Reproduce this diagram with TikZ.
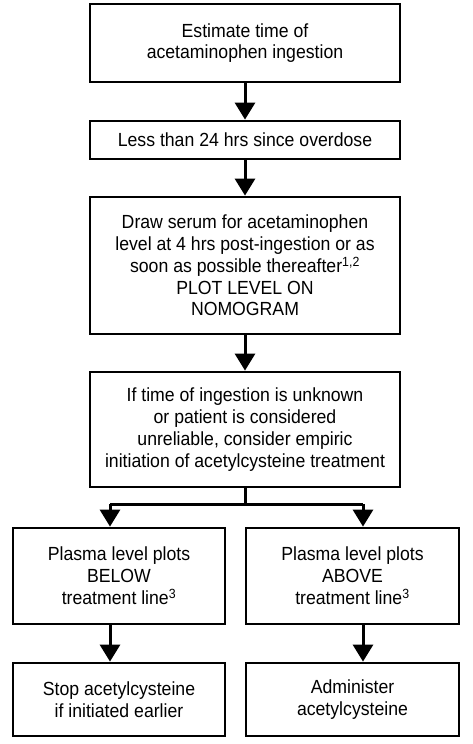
\documentclass[tikz,border=0pt]{standalone}
\usepackage{fontspec}
\setmainfont{Liberation Sans}[FakeStretch=0.93]
\usetikzlibrary{arrows.meta}
\begin{document}
\begin{tikzpicture}[x=1pt,y=-1pt,
  box/.style={draw,line width=2.8pt,align=center,inner sep=0pt,
    font=\fontsize{19}{21.8}\selectfont},
  arr/.style={line width=3pt,-{Triangle[width=20pt,length=17pt]}},
  ln/.style={line width=3pt}]
\useasboundingbox (0,0) rectangle (473,744);
\node[box,minimum width=310pt,minimum height=78pt] (b1) at (245,43) {Estimate time of\\acetaminophen ingestion};
\node[box,minimum width=310pt,minimum height=38pt] (b2) at (245,140) {Less than 24 hrs since overdose};
\node[box,minimum width=310pt,minimum height=137pt] (b3) at (245,265.5) {Draw serum for acetaminophen\\level at 4 hrs post-ingestion or as\\soon as possible thereafter\textsuperscript{1,2}\\PLOT LEVEL ON\\NOMOGRAM};
\node[box,minimum width=310pt,minimum height=115pt] (b4) at (245,429.5) {If time of ingestion is unknown\\or patient is considered\\unreliable, consider empiric\\initiation of acetylcysteine treatment};
\node[box,minimum width=212pt,minimum height=96pt] (b5l) at (119,576) {Plasma level plots\\BELOW\\treatment line\textsuperscript{3}};
\node[box,minimum width=213pt,minimum height=96pt] (b5r) at (352.5,576) {Plasma level plots\\ABOVE\\treatment line\textsuperscript{3}};
\node[box,minimum width=212pt,minimum height=73pt] (b6l) at (119,699.5) {Stop acetylcysteine\\if initiated earlier};
\node[box,minimum width=213pt,minimum height=73pt] (b6r) at (352.5,699.5) {Administer\\acetylcysteine};
\draw[arr] (b1) -- (b2);
\draw[arr] (b2) -- (b3);
\draw[arr] (b3) -- (b4);
\coordinate (bm) at (245,504);
\coordinate (bl) at (110,504);
\coordinate (brr) at (363,504);
\draw[ln] (b4.south) -- (bm);
\draw[ln] (bl) -- (brr);
\draw[arr] (bl) -- (bl |- b5l.north);
\draw[arr] (brr) -- (brr |- b5r.north);
\coordinate (cl) at (110,624);
\coordinate (cr) at (363,624);
\draw[arr] (cl) -- (cl |- b6l.north);
\draw[arr] (cr) -- (cr |- b6r.north);
\end{tikzpicture}
\end{document}
